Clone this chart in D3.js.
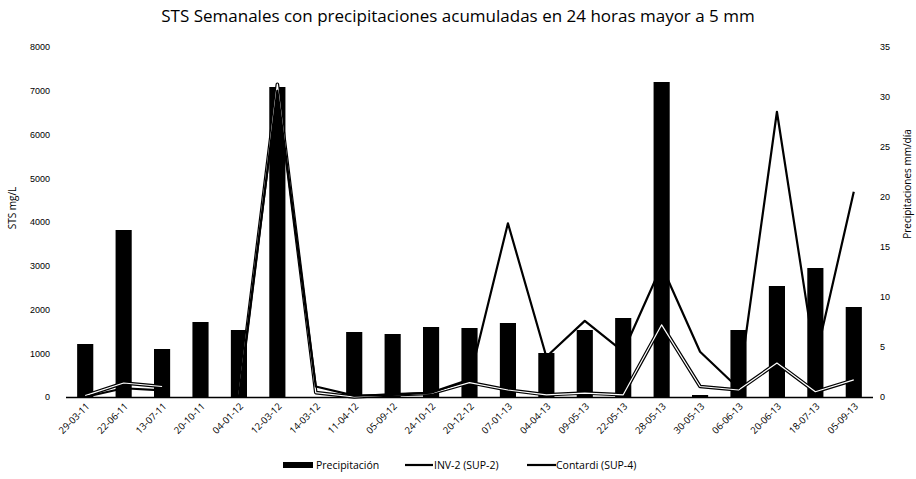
<!DOCTYPE html>
<html>
<head>
<meta charset="utf-8">
<script src="https://cdn.jsdelivr.net/npm/d3@7.9.0/dist/d3.min.js"></script>
<style>
  body { margin: 0; background: #fff; }
  svg { font-family: "Open Sans", "Noto Sans", sans-serif; }
  .axis text { fill: #000; font-size: 9px; }
</style>
</head>
<body>
<svg id="chart" width="916" height="479"></svg>
<script>
// Sample dates (x categories)
const fechas = ['29-03-11', '22-06-11', '13-07-11', '20-10-11', '04-01-12', '12-03-12', '14-03-12',
  '11-04-12', '05-09-12', '24-10-12', '20-12-12', '07-01-13', '04-04-13', '09-05-13', '22-05-13',
  '28-05-13', '30-05-13', '06-06-13', '20-06-13', '18-07-13', '05-09-13'];

// Precipitation, mm/dia (right axis)
const precipitacion = [5.3, 16.7, 4.8, 7.5, 6.7, 31.0, 0, 6.5, 6.3, 7.0, 6.9, 7.4, 4.4, 6.7, 7.9,
  31.5, 0.2, 6.7, 11.1, 12.9, 9.0];

// STS mg/L (left axis), null = no sample
const inv2 = [30, 320, 240, null, 50, 7150, 100, 0, 50, 80, 330, 160, 50, 90, 50,
  1650, 240, 160, 775, 120, 390];
const contardi = [0, 200, 150, null, 0, 7000, 240, 30, 50, 100, 400, 3970, 920, 1740, 1035,
  3000, 1035, 200, 6520, 850, 4690];

const ticksSTS = d3.range(0, 8001, 1000);
const ticksPrecip = d3.range(0, 36, 5);

const svg = d3.select('#chart');
const mLeft = 66, mRight = 873, mTop = 47, mBottom = 397;

// x scales: band for bars, centres for line points
const x = d3.scaleBand().domain(fechas).range([mLeft, mRight]).paddingInner(0.58).paddingOuter(0.29);
const xc = d => x(d) + x.bandwidth() / 2;

const yL = d3.scaleLinear().domain([0, 8000]).range([mBottom, mTop]);
const yR = d3.scaleLinear().domain([0, 35]).range([mBottom, mTop]);

// title
svg.append('text')
  .attr('x', 458).attr('y', 22)
  .attr('text-anchor', 'middle')
  .attr('font-size', 17)
  .text('STS Semanales con precipitaciones acumuladas en 24 horas mayor a 5 mm');

// left axis
const axL = svg.append('g').attr('class', 'axis')
  .attr('transform', `translate(${mLeft - 16},0)`)
  .call(d3.axisLeft(yL).tickValues(ticksSTS).tickFormat(d3.format('d')).tickSize(0).tickPadding(0));
axL.select('.domain').remove();

// right axis
const axR = svg.append('g').attr('class', 'axis')
  .attr('transform', `translate(${mRight + 7},0)`)
  .call(d3.axisRight(yR).tickValues(ticksPrecip).tickSize(0).tickPadding(0));
axR.select('.domain').remove();

// axis titles
svg.append('text')
  .attr('transform', 'translate(16,208) rotate(-90)')
  .attr('text-anchor', 'middle')
  .attr('font-size', 10)
  .text('STS  mg/L');
svg.append('text')
  .attr('transform', 'translate(911,184) rotate(-90)')
  .attr('text-anchor', 'middle')
  .attr('font-size', 10)
  .text('Precipitaciones  mm/día');

// bars
svg.append('g').selectAll('rect')
  .data(fechas)
  .join('rect')
  .attr('x', d => x(d))
  .attr('width', x.bandwidth())
  .attr('y', (d, i) => yR(precipitacion[i]))
  .attr('height', (d, i) => mBottom - yR(precipitacion[i]))
  .attr('fill', '#000');

// baseline
svg.append('line')
  .attr('x1', mLeft).attr('x2', mRight)
  .attr('y1', mBottom + 0.5).attr('y2', mBottom + 0.5)
  .attr('stroke', '#000').attr('stroke-width', 1.5);

// lines
const line = d3.line()
  .defined(d => d.v !== null)
  .x(d => xc(d.f))
  .y(d => yL(d.v));
const toPts = arr => fechas.map((f, i) => ({ f, v: arr[i] }));

// INV-2: light line with dark edge
svg.append('path')
  .attr('d', line(toPts(inv2)))
  .attr('fill', 'none').attr('stroke', '#000').attr('stroke-width', 3.6)
  .attr('stroke-linejoin', 'round');
svg.append('path')
  .attr('d', line(toPts(inv2)))
  .attr('fill', 'none').attr('stroke', '#fff').attr('stroke-width', 1.2)
  .attr('stroke-linejoin', 'round');

// Contardi: black line
svg.append('path')
  .attr('d', line(toPts(contardi)))
  .attr('fill', 'none').attr('stroke', '#000').attr('stroke-width', 2.2)
  .attr('stroke-linejoin', 'round');

// x labels, rotated
svg.append('g').selectAll('text')
  .data(fechas)
  .join('text')
  .attr('transform', d => `translate(${xc(d) + 5},${mBottom + 10}) rotate(-45)`)
  .attr('text-anchor', 'end')
  .attr('font-size', 9.5)
  .attr('fill', '#000')
  .text(d => d);

// legend
const lg = svg.append('g').attr('font-size', 10.5);
lg.append('rect').attr('x', 283).attr('y', 462).attr('width', 30).attr('height', 6).attr('fill', '#000');
lg.append('text').attr('x', 316).attr('y', 469).text('Precipitación');
lg.append('line').attr('x1', 405).attr('x2', 433).attr('y1', 465).attr('y2', 465)
  .attr('stroke', '#000').attr('stroke-width', 2.2);
lg.append('text').attr('x', 434).attr('y', 469).text('INV-2 (SUP-2)');
lg.append('line').attr('x1', 527).attr('x2', 556).attr('y1', 465).attr('y2', 465)
  .attr('stroke', '#000').attr('stroke-width', 2.2);
lg.append('text').attr('x', 556).attr('y', 469).text('Contardi (SUP-4)');
</script>
</body>
</html>
